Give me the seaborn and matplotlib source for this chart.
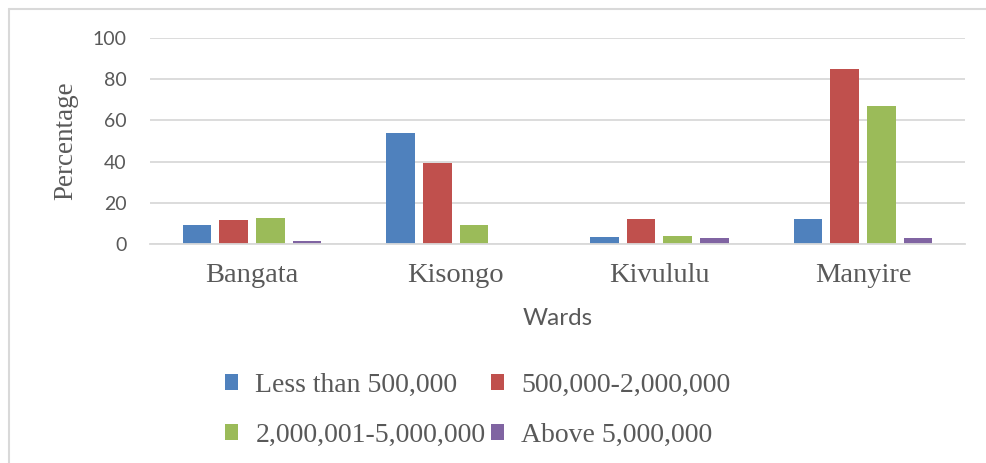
import matplotlib
matplotlib.use("Agg")
import matplotlib.pyplot as plt
import seaborn as sns
import pandas as pd
from matplotlib.patches import Patch
from matplotlib.lines import Line2D

wards = ["Bangata", "Kisongo", "Kivululu", "Manyire"]
series = ["Less than 500,000", "500,000-2,000,000", "2,000,001-5,000,000", "Above 5,000,000"]
less_500k = [9, 53.7, 3.4, 12]
v500k_2m = [11.5, 39.3, 12, 85]
v2m_5m = [12.6, 9, 3.9, 66.8]
above_5m = [1.4, 0, 2.7, 2.7]
colors = ["#4F81BD", "#C0504D", "#9BBB59", "#8064A2"]
yticks = [0, 20, 40, 60, 80, 100]

rows = []
for s, vals in zip(series, [less_500k, v500k_2m, v2m_5m, above_5m]):
    for w, v in zip(wards, vals):
        rows.append({"Wards": w, "Series": s, "Percentage": v})
df = pd.DataFrame(rows)

sns.set_theme(style="white")
fig = plt.figure(figsize=(9.86, 4.63), dpi=100)
ax = fig.add_axes([150/986, 1-244/463, (965-150)/986, (244-38)/463])

sns.barplot(data=df, x="Wards", y="Percentage", hue="Series", hue_order=series,
            order=wards, palette=colors, width=0.72, gap=0.22, ax=ax,
            legend=False, linewidth=0, saturation=1)

ax.set_ylim(0, 100)
ax.set_xlim(-0.5, 3.5)
ax.set_yticks(yticks)
ax.yaxis.grid(True, color="#D9D9D9", linewidth=1.3)
ax.set_axisbelow(True)
for sp in ["top", "left", "right"]:
    ax.spines[sp].set_visible(False)
ax.spines["bottom"].set_color("#D9D9D9")
ax.spines["bottom"].set_linewidth(1.3)
ax.tick_params(axis="both", length=0)
ax.tick_params(axis="y", pad=17, labelcolor="#595959")
ax.tick_params(axis="x", pad=14, labelcolor="#595959")
for lab in ax.get_yticklabels():
    lab.set_fontfamily("Lato")
    lab.set_fontsize(14)
for lab in ax.get_xticklabels():
    lab.set_fontfamily("Liberation Serif")
    lab.set_fontsize(20.5)

ax.set_xlabel("Wards", fontfamily="Lato", fontsize=17.5, color="#595959", labelpad=14)
ax.set_ylabel("Percentage", fontfamily="Liberation Serif", fontsize=19.5, color="#595959", labelpad=10)

order = [0, 2, 1, 3]  # row-wise fill for 2 columns
handles = [Patch(facecolor=colors[i], edgecolor="none") for i in order]
labels = [series[i] for i in order]
leg = fig.legend(handles, labels, loc="upper left", bbox_to_anchor=(225/986, 1-373/463),
                 ncol=2, frameon=False, borderpad=0, borderaxespad=0,
                 handlelength=0.47, handleheight=0.47, handletextpad=0.62,
                 columnspacing=0.2, labelspacing=0.9,
                 prop={"family": "Liberation Serif", "size": 20})
for t in leg.get_texts():
    t.set_color("#595959")

# outer frame (top and left)
fig.add_artist(Line2D([9/986, 1], [1-9/463, 1-9/463], color="#D9D9D9", linewidth=1.5))
fig.add_artist(Line2D([9/986, 9/986], [0, 1-9/463], color="#D9D9D9", linewidth=1.5))

fig.savefig("out.png", dpi=100, facecolor="white")
